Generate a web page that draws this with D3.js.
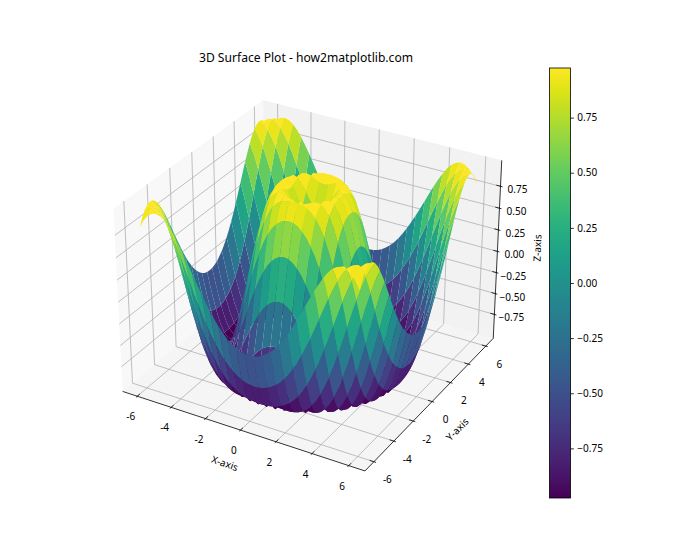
<!DOCTYPE html>
<html><head><meta charset="utf-8">
<script src="https://cdnjs.cloudflare.com/ajax/libs/d3/7.8.5/d3.min.js"></script>
<style>html,body{margin:0;background:#fff}svg{display:block}text{font-family:"Noto Sans","Open Sans",sans-serif;fill:#000}</style>
</head><body><svg id="c" width="700" height="560"></svg>
<script>
const titleText = "3D Surface Plot - how2matplotlib.com";
const xTicks = [-6,-4,-2,0,2,4,6];
const yTicks = [-6,-4,-2,0,2,4,6];
const zTicks = [-0.75,-0.5,-0.25,0,0.25,0.5,0.75];
const xLimits = [-6.6,6.6];
const yLimits = [-6.6,6.6];
const zLimits = [-1.0,1.0];
const colorLimits = [-0.975,0.975];
// grid offsets from the centre, 0..25 (one quadrant; the surface is mirror-symmetric)
const gridStep = [0,0.24,0.48,0.72,0.96,1.2,1.44,1.68,1.92,2.16,2.4,2.64,2.88,3.12,3.36,3.6,3.84,4.08,4.32,4.56,4.8,5.04,5.28,5.52,5.76,6];
// heights along the facet boundary lines: row = odd offset 1,3,...,25, column = offset 0..25
const zEdges = [
[.238,.333,.511,.688,.836,.940,.994,.992,.934,.824,.666,.471,.249,.012,-.226,-.450,-.648,-.810,-.927,-.989,-.996,-.944,-.840,-.687,-.495,-.274],
[.659,.688,.761,.851,.932,.985,.999,.967,.887,.761,.593,.394,.171,-.060,-.290,-.505,-.694,-.842,-.945,-.996,-.990,-.929,-.816,-.657,-.461,-.239],
[.932,.940,.961,.985,.999,.992,.954,.881,.770,.621,.442,.239,.022,-.200,-.414,-.608,-.772,-.896,-.974,-1.000,-.972,-.892,-.763,-.592,-.389,-.164],
[.994,.992,.984,.967,.934,.881,.801,.693,.556,.394,.210,.012,-.191,-.392,-.577,-.738,-.867,-.956,-.997,-.989,-.931,-.825,-.675,-.490,-.279,-.052],
[.831,.824,.801,.761,.701,.621,.519,.394,.249,.087,-.087,-.266,-.443,-.608,-.753,-.871,-.954,-.996,-.993,-.944,-.852,-.718,-.547,-.347,-.131,.094],
[.481,.471,.442,.394,.326,.239,.134,.012,-.122,-.266,-.414,-.556,-.694,-.810,-.905,-.969,-.999,-.989,-.938,-.849,-.721,-.559,-.371,-.164,.053,.269],
[.022,.012,-.015,-.060,-.122,-.200,-.290,-.392,-.498,-.608,-.714,-.810,-.892,-.956,-.992,-.999,-.972,-.911,-.816,-.687,-.528,-.347,-.150,.058,.264,.460],
[-.443,-.450,-.471,-.505,-.552,-.608,-.671,-.738,-.806,-.871,-.927,-.969,-.995,-.999,-.978,-.929,-.852,-.746,-.613,-.456,-.279,-.089,.107,.302,.487,.655],
[-.806,-.810,-.823,-.842,-.867,-.896,-.927,-.956,-.980,-.996,-.999,-.989,-.961,-.911,-.840,-.746,-.629,-.490,-.334,-.164,.017,.200,.380,.548,.701,.825],
[-.988,-.989,-.992,-.996,-.999,-1.000,-.998,-.989,-.972,-.944,-.905,-.849,-.778,-.687,-.581,-.456,-.317,-.164,-.001,.166,.332,.492,.640,.769,.874,.951],
[-.947,-.944,-.938,-.929,-.913,-.892,-.864,-.825,-.778,-.718,-.645,-.559,-.461,-.347,-.225,-.089,.053,.200,.348,.492,.628,.751,.850,.929,.980,1.000],
[-.691,-.687,-.675,-.657,-.629,-.592,-.547,-.490,-.427,-.347,-.261,-.164,-.057,.058,.178,.302,.427,.548,.663,.769,.858,.929,.976,.999,.993,.957],
[-.279,-.274,-.261,-.239,-.204,-.164,-.113,-.052,.017,.094,.178,.269,.363,.460,.559,.655,.743,.825,.896,.951,.986,1.000,.990,.957,.896,.806]];

const gridVal = k => Math.sign(k)*gridStep[Math.abs(k)];
function zAt(kx,ky){
  const a=Math.abs(kx), b=Math.abs(ky);
  return a%2===1 ? zEdges[(a-1)/2][b] : zEdges[(b-1)/2][a];
}

const svg = d3.select("#c");
const k = 1.8294640721620434*(25/24)/Math.hypot(4,4,3);
const wx = d3.scaleLinear().domain(xLimits).range([0,4*k]);
const wy = d3.scaleLinear().domain(yLimits).range([0,4*k]);
const wz = d3.scaleLinear().domain(zLimits).range([0,3*k]);
const R = [2*k,2*k,1.5*k];
const n = [Math.sqrt(3)/4,-3/4,1/2], u=[Math.sqrt(3)/2,1/2,0], v=[-1/4,Math.sqrt(3)/4,Math.sqrt(3)/2];
const dot=(a,b)=>a[0]*b[0]+a[1]*b[1]+a[2]*b[2];
const S=2238, CX=311.5, CY=276.3, DIST=10;
function proj(x,y,z){
  const p=[wx(x)-R[0],wy(y)-R[1],wz(z)-R[2]];
  const w=DIST-dot(n,p);
  return {x:CX+S*dot(u,p)/w, y:CY-S*dot(v,p)/w, w};
}
const xd=(xLimits[1]-xLimits[0])/48, yd=(yLimits[1]-yLimits[0])/48, zd=(zLimits[1]-zLimits[0])/48;
const x0=xLimits[0]-xd,x1=xLimits[1]+xd,y0=yLimits[0]-yd,y1=yLimits[1]+yd,z0=zLimits[0]-zd,z1=zLimits[1]+zd;
const line=d3.line().x(d=>d.x).y(d=>d.y);
const P=a=>a.map(d=>proj(d[0],d[1],d[2]));

// panes
const panes=[
 {c:[[x0,y0,z0],[x0,y1,z0],[x0,y1,z1],[x0,y0,z1]],f:"rgb(242,242,242)",a:.5},
 {c:[[x0,y1,z0],[x1,y1,z0],[x1,y1,z1],[x0,y1,z1]],f:"rgb(230,230,230)",a:.5},
 {c:[[x0,y0,z0],[x1,y0,z0],[x1,y1,z0],[x0,y1,z0]],f:"rgb(236,236,236)",a:.5}];
svg.append("g").selectAll("path").data(panes).join("path")
 .attr("d",d=>line(P(d.c))+"Z").attr("fill",d=>d.f).attr("fill-opacity",d=>d.a);

// grid
const gridSegs=[
 ...xTicks.map(t=>[[t,y0,z0],[t,y1,z0],[t,y1,z1]]),
 ...yTicks.map(t=>[[x1,t,z0],[x0,t,z0],[x0,t,z1]]),
 ...zTicks.map(t=>[[x0,y0,t],[x0,y1,t],[x1,y1,t]])];
svg.append("g").selectAll("path").data(gridSegs).join("path")
 .attr("d",d=>line(P(d))).attr("fill","none").attr("stroke","#b0b0b0").attr("stroke-width",.8);

// axis lines
const axLines=[[[x0,y0,z0],[x1,y0,z0]],[[x1,y0,z0],[x1,y1,z0]],[[x1,y1,z0],[x1,y1,z1]]];
svg.append("g").selectAll("path").data(axLines).join("path")
 .attr("d",d=>line(P(d))).attr("fill","none").attr("stroke","#000").attr("stroke-width",.8);

// ticks
const dy=(yLimits[1]-yLimits[0])/12*1.0417, dx=(xLimits[1]-xLimits[0])/12*1.0417;
const tickSegs=[
 ...xTicks.map(t=>[[t,y0+.2*dy,z0],[t,y0-.1*dy,z0]]),
 ...yTicks.map(t=>[[x1-.2*dx,t,z0],[x1+.1*dx,t,z0]]),
 ...zTicks.map(t=>[[x1-.2*dx,y1,t],[x1+.1*dx,y1,t]])];
svg.append("g").selectAll("path").data(tickSegs).join("path")
 .attr("d",d=>line(P(d))).attr("fill","none").attr("stroke","#000").attr("stroke-width",.8);

// tick labels
const fs=10;
function lab(sel,data,pos,ox,oy,fmt){
 sel.append("g").selectAll("text").data(data).join("text")
  .attr("x",d=>pos(d).x+ox).attr("y",d=>pos(d).y+oy)
  .attr("text-anchor","middle").attr("dominant-baseline","central")
  .attr("font-size",fs).text(fmt);
}
lab(svg,xTicks,t=>proj(t,y0,z0),-6.5,20,d=>d);
lab(svg,yTicks,t=>proj(x1,t,z0),13.5,17.5,d=>d);
lab(svg,zTicks,t=>proj(x1,y1,t),17,3,d=>d3.format(".2f")(d));

// surface: every facet spans two grid steps and its outline runs through the in-between grid points
const color=d3.scaleSequential(d3.interpolateViridis).domain(colorLimits);
const facets=[];
for(let b=-25;b<25;b+=2)for(let a=-25;a<25;a+=2){
  const c=[[a,b],[a+1,b],[a+2,b],[a+2,b+1],[a+2,b+2],[a+1,b+2],[a,b+2],[a,b+1]];
  const pts=c.map(([p,q])=>proj(gridVal(p),gridVal(q),zAt(p,q)));
  facets.push({pts,z:d3.mean(c,([p,q])=>zAt(p,q)),w:d3.mean(pts,p=>p.w)});
}
facets.sort((a,b)=>b.w-a.w);
svg.append("g").selectAll("path").data(facets).join("path")
 .attr("d",d=>line(d.pts)+"Z").attr("fill",d=>color(d.z));

// axis labels
const axisLabels=[
 {t:"X-axis",x:225,y:463,r:19},
 {t:"Y-axis",x:457,y:429,r:-45},
 {t:"Z-axis",x:537,y:248,r:-88}];
svg.append("g").selectAll("text").data(axisLabels).join("text")
 .attr("transform",d=>`translate(${d.x},${d.y}) rotate(${d.r})`)
 .attr("text-anchor","middle").attr("dominant-baseline","central")
 .attr("font-size",fs).text(d=>d.t);

// title
svg.append("text").attr("x",306).attr("y",57).attr("text-anchor","middle")
 .attr("dominant-baseline","central").attr("font-size",12.1).text(titleText);

// colorbar
const cbX=549.5,cbW=21,cbTop=68,cbBot=498;
const cy=d3.scaleLinear().domain(colorLimits).range([cbBot,cbTop]);
const grad=svg.append("defs").append("linearGradient").attr("id","cb").attr("x1",0).attr("x2",0).attr("y1",1).attr("y2",0);
d3.range(0,1.0001,1/32).forEach(t=>grad.append("stop").attr("offset",t).attr("stop-color",d3.interpolateViridis(t)));
svg.append("rect").attr("x",cbX).attr("y",cbTop).attr("width",cbW).attr("height",cbBot-cbTop).attr("fill","url(#cb)").attr("stroke","#000").attr("stroke-width",.8);
const cbAxis=d3.axisRight(cy).tickValues(zTicks).tickFormat(d3.format(".2f")).tickSize(3.4).tickPadding(3.4);
const ag=svg.append("g").attr("transform",`translate(${cbX+cbW},0)`).call(cbAxis);
ag.select(".domain").remove();
ag.selectAll("line").attr("stroke","#000").attr("stroke-width",.8);
ag.selectAll("text").attr("font-size",fs).attr("font-family",'"Noto Sans","Open Sans",sans-serif');
</script></body></html>
